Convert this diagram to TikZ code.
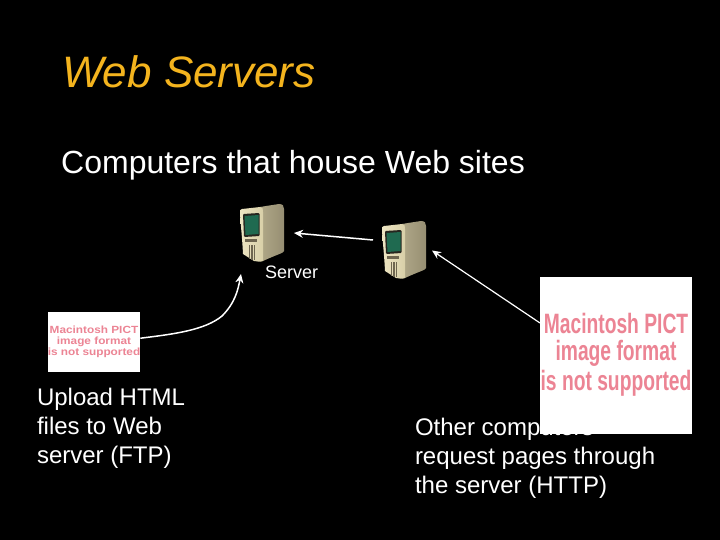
\documentclass[tikz,border=0pt]{standalone}
\usepackage{fontspec}
\setmainfont{Liberation Sans}
\usetikzlibrary{arrows.meta}
\definecolor{titlegold}{HTML}{F4B41E}
\definecolor{pictred}{HTML}{EC8494}
\definecolor{caseside}{HTML}{B0A888}
\definecolor{casesided}{HTML}{968E72}
\definecolor{casefront}{HTML}{EDE5C2}
\definecolor{casefrontd}{HTML}{D8CFA8}
\definecolor{screenrim}{HTML}{26261F}
\definecolor{screengreen}{HTML}{1F6A50}
\definecolor{slot}{HTML}{6E6650}
\tikzset{
  x=1pt,y=-1pt,
  txt/.style={anchor=base west,inner sep=0pt,outer sep=0pt,text=white,font=\fontsize{24}{24}\selectfont},
  titletxt/.style={anchor=base west,inner sep=0pt,text=titlegold,font=\fontsize{44}{44}\selectfont\itshape},
  headtxt/.style={anchor=base west,inner sep=0pt,text=white,font=\fontsize{32}{32}\selectfont},
  smalltxt/.style={anchor=base west,inner sep=0pt,text=white,font=\fontsize{18}{18}\selectfont},
  pictbox/.style={fill=white,draw=none,inner sep=0pt,anchor=north west},
  pictsmall/.style={inner sep=0pt,text=pictred,font=\fontsize{11.8}{11.8}\selectfont\bfseries},
  pictbig/.style={inner sep=0pt,text=pictred,font=\fontsize{25}{25}\selectfont\bfseries},
  link/.style={draw=white,line width=1.5pt,-{Stealth[length=9pt,width=8pt]}},
  srv/.pic={
    \shade[left color=caseside,right color=casesided] (20,3) -- (26,2) -- (39,0) .. controls (43,0) and (44,2) .. (44,5)
      -- (44,47) .. controls (44,49) and (38,50) .. (23,57) -- (20,57) -- cycle;
    \shade[left color=casefront,right color=casefrontd] (2,5) -- (20,3) .. controls (23,3) and (23,5) .. (23,8)
      -- (23,56) .. controls (23,58) and (20,58) .. (14,57) -- (3,50)
      .. controls (2,30) and (0,15) .. (0,8) .. controls (0,6) and (1,5) .. (2,5) -- cycle;
    \fill[screenrim,rounded corners=1pt] (3,10) -- (19.5,9) -- (19.5,32) -- (4,33) -- cycle;
    \fill[screengreen] (4.5,12) -- (18.5,11) -- (18.5,30) -- (5.5,31) -- cycle;
    \fill[slot] (5,34.5) rectangle (17,38);
    \fill[slot] (8.5,41) rectangle (10,55);
    \fill[slot] (11,41) rectangle (12.5,56);
    \fill[slot] (13.5,41) rectangle (15,56);
  }
}
\begin{document}
\begin{tikzpicture}
\useasboundingbox[fill=black] (0,0) rectangle (720,540);
\node[titletxt] (title) at (62,88) {Web Servers};
\node[headtxt] (head) at (61,174) {Computers that house Web sites};
\pic at (240,204) {srv};
\pic at (382,221) {srv};
\node[smalltxt] (serverlabel) at (265,278) {Server};
\node[txt] (up1) at (37,405) {Upload HTML};
\node[txt] (up2) at (37,434) {files to Web};
\node[txt] (up3) at (37,463) {server (FTP)};
\node[txt] (ot1) at (415,435) {Other computers};
\node[txt] (ot2) at (415,464) {request pages through};
\node[txt] (ot3) at (415,493) {the server (HTTP)};
\node[pictbox,minimum width=92pt,minimum height=60pt] (pictL) at (48,312) {};
\node[pictbox,minimum width=152pt,minimum height=157.5pt] (pictR) at (540,276.5) {};
\node[pictsmall] (l1) at (94,330) {\scalebox{1}[0.88]{Macintosh PICT}};
\node[pictsmall] (l2) at (94,341.5) {\scalebox{1}[0.88]{image format}};
\node[pictsmall] (l3) at (94,353) {\scalebox{1}[0.88]{is not supported}};
\node[pictbig] (r1) at (616,323) {\scalebox{0.77}[1.12]{Macintosh PICT}};
\node[pictbig] (r2) at (616,353) {\scalebox{0.77}[1.12]{image format}};
\node[pictbig] (r3) at (616,383) {\scalebox{0.77}[1.12]{is not supported}};
\coordinate (srvAin) at (294,233);
\coordinate (srvBout) at (373,240);
\coordinate (srvBin) at (432,250.5);
\coordinate (srvAup) at (241,274);
\coordinate (pictRout) at (540,323);
\draw[link] (srvBout) -- (srvAin);
\draw[link,line width=1.2pt] (pictRout) -- (srvBin);
\draw[link] (pictL.east) ++(0,-4) coordinate (pictLout)
  .. controls (175,334) and (205,330) .. (222,316)
  .. controls (235,303) and (238,290) .. (srvAup);
\end{tikzpicture}
\end{document}
